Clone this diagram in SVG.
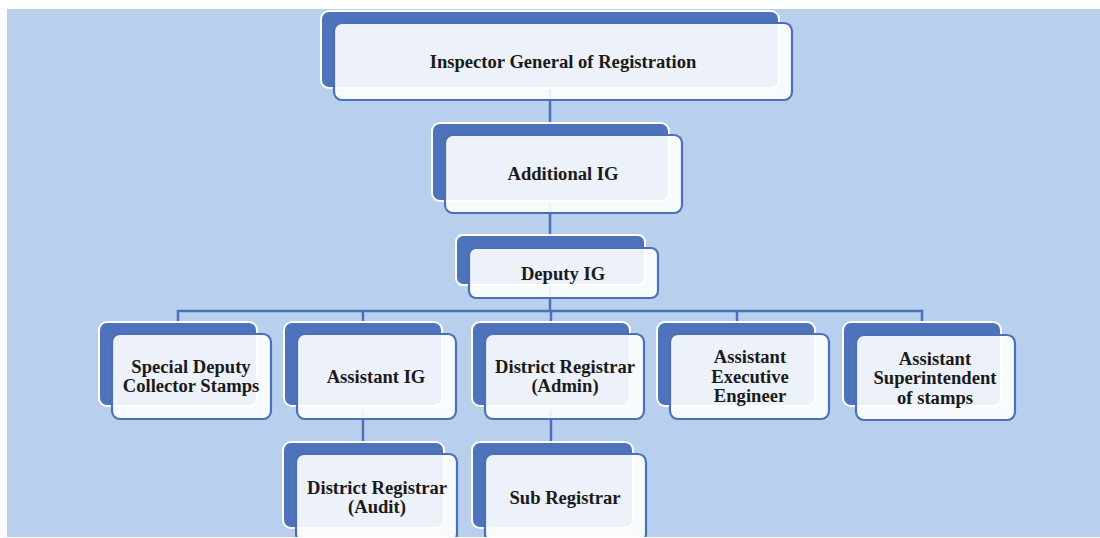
<svg xmlns="http://www.w3.org/2000/svg" width="1100" height="538" viewBox="0 0 1100 538">
<defs>
<style>
.bg{fill:#b9cfee}
.back{fill:#4e73bc;stroke:#ffffff;stroke-width:2}
.front{fill:#ffffff;fill-opacity:0.9;stroke:#4a71b8;stroke-width:2.2}
.ln{fill:none;stroke:#4a71b8;stroke-width:2.5}
text{font-family:"Liberation Serif","Times New Roman",serif;font-weight:700;font-size:18.6px;fill:#1a1a1a;text-anchor:middle}
</style>
</defs>
<rect x="0" y="0" width="1100" height="538" fill="#ffffff"/>
<rect class="bg" x="7" y="9" width="1093" height="528"/>
<g id="connectors">
<path class="ln" d="M550 80 V311"/>
<path class="ln" d="M178 322 V311 H922 V322"/>
<path class="ln" d="M363 311 V322"/>
<path class="ln" d="M551 311 V322"/>
<path class="ln" d="M737 311 V322"/>
<path class="ln" d="M363 410 V442"/>
<path class="ln" d="M551 410 V442"/>
</g>
<g id="n-inspector">
<rect class="back" x="321" y="11" width="458" height="77" rx="8"/>
<rect class="front" x="334" y="23" width="458" height="77" rx="8"/>
<text x="563" y="68">Inspector General of Registration</text>
</g>
<g id="n-additional">
<rect class="back" x="432" y="123" width="237" height="78" rx="8"/>
<rect class="front" x="445" y="135" width="237" height="78" rx="8"/>
<text x="563" y="180">Additional IG</text>
</g>
<g id="n-deputy">
<rect class="back" x="456" y="235" width="189" height="50" rx="7"/>
<rect class="front" x="469" y="248" width="189" height="50" rx="7"/>
<text x="563" y="280">Deputy IG</text>
</g>
<g id="n-special">
<rect class="back" x="99" y="322" width="158" height="84" rx="8"/>
<rect class="front" x="112" y="334" width="159" height="85" rx="8"/>
<text x="191" y="373">Special Deputy</text>
<text x="191" y="392">Collector Stamps</text>
</g>
<g id="n-assistant-ig">
<rect class="back" x="284" y="322" width="158" height="84" rx="8"/>
<rect class="front" x="297" y="334" width="159" height="85" rx="8"/>
<text x="376" y="383">Assistant IG</text>
</g>
<g id="n-dr-admin">
<rect class="back" x="472" y="322" width="158" height="84" rx="8"/>
<rect class="front" x="485" y="334" width="159" height="85" rx="8"/>
<text x="565" y="373">District Registrar</text>
<text x="565" y="392">(Admin)</text>
</g>
<g id="n-aee">
<rect class="back" x="657" y="322" width="158" height="84" rx="8"/>
<rect class="front" x="670" y="334" width="159" height="85" rx="8"/>
<text x="750" y="363">Assistant</text>
<text x="750" y="383">Executive</text>
<text x="750" y="402">Engineer</text>
</g>
<g id="n-asst-super">
<rect class="back" x="843" y="322" width="158" height="84" rx="8"/>
<rect class="front" x="856" y="335" width="159" height="85" rx="8"/>
<text x="935" y="365">Assistant</text>
<text x="935" y="384">Superintendent</text>
<text x="935" y="404">of stamps</text>
</g>
<g id="n-dr-audit">
<rect class="back" x="283" y="442" width="161" height="86" rx="8"/>
<rect class="front" x="296" y="454" width="161" height="88" rx="8"/>
<text x="377" y="494">District Registrar</text>
<text x="377" y="513">(Audit)</text>
</g>
<g id="n-sub">
<rect class="back" x="472" y="442" width="161" height="86" rx="8"/>
<rect class="front" x="485" y="454" width="161" height="88" rx="8"/>
<text x="565" y="504">Sub Registrar</text>
</g>
<rect x="0" y="537" width="1100" height="1" fill="#ffffff"/>
</svg>
